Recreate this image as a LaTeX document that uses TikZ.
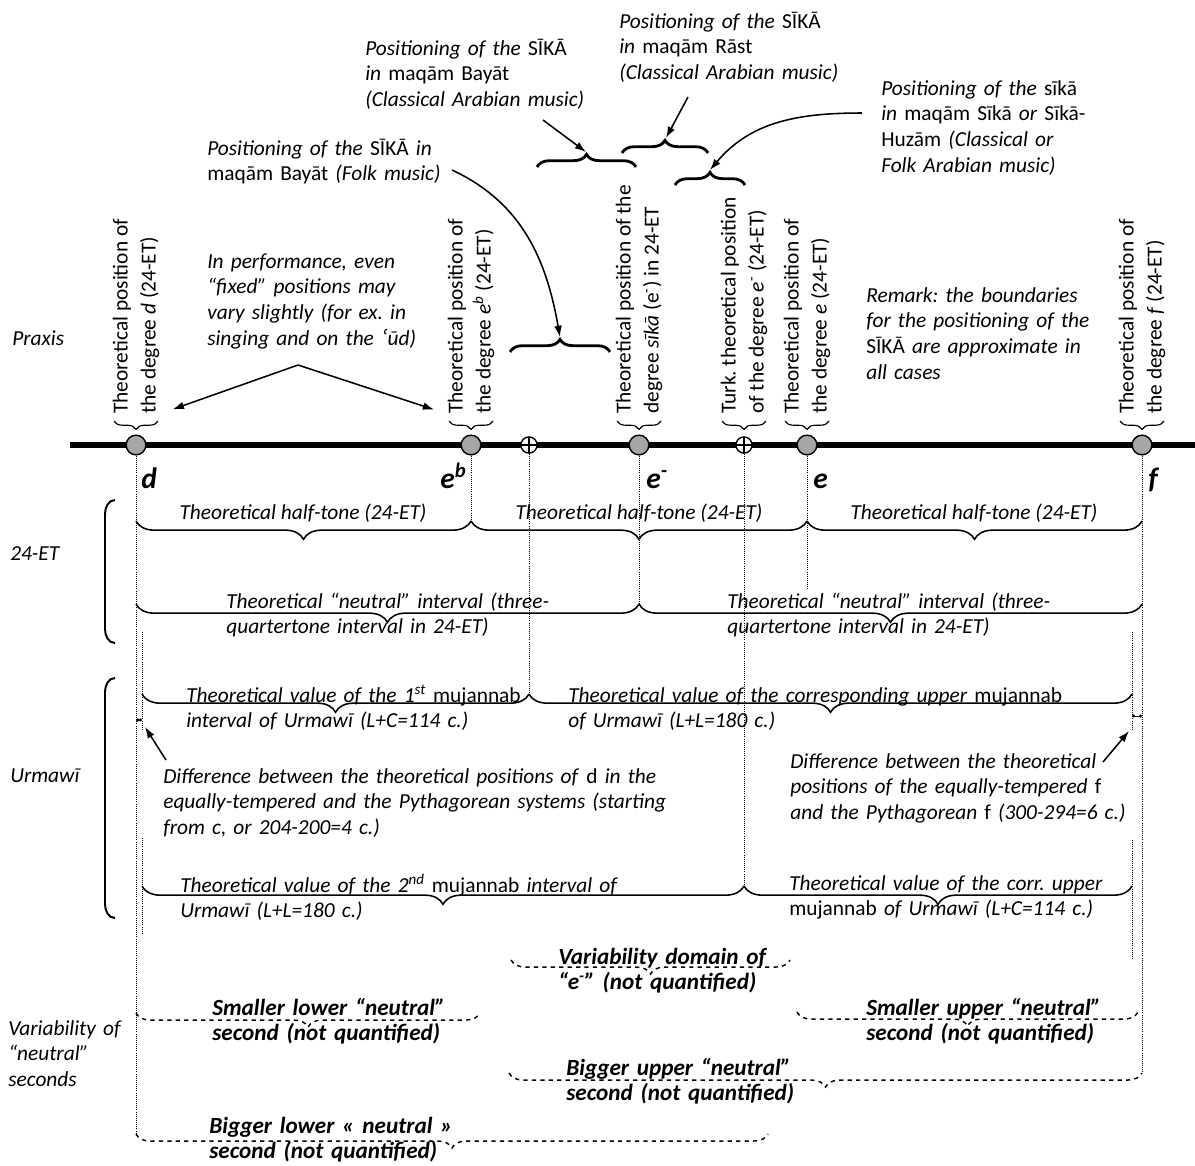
\documentclass[tikz,border=0pt]{standalone}
\usepackage{fontspec}
\setmainfont{Carlito}
\newfontfamily\ringfont{DejaVu Sans}
\usetikzlibrary{decorations.pathreplacing,arrows.meta}
\definecolor{PointGray}{HTML}{A6A6A6}
\newcommand\notesize{\fontsize{15.2pt}{18.4pt}\selectfont}
\newcommand\varsize{\fontsize{16.5pt}{18.4pt}\selectfont}
\frenchspacing

\begin{document}
\begin{tikzpicture}[x=0.025cm, y=-0.025cm,
  every node/.style={font=\notesize, inner sep=0pt},
  note/.style={anchor=base west, align=left, text width=16cm, font=\notesize\itshape},
  varnote/.style={note, font=\varsize\bfseries\itshape},
  centrenote/.style={anchor=base, font=\notesize\itshape},
  deg/.style={anchor=base west, font=\fontsize{21pt}{24pt}\selectfont\bfseries\itshape},
  vlabel/.style={rotate=90, anchor=west, align=left, font=\fontsize{15.2pt}{19.8pt}\selectfont},
  axisline/.style={line width=4.2pt},
  degree/.style={circle, draw, fill=PointGray, line width=1pt, minimum size=14pt},
  turk/.style={circle, draw, fill=white, line width=1pt, minimum size=11.5pt,
    path picture={\draw[line width=0.8pt] (path picture bounding box.north) -- (path picture bounding box.south)
      (path picture bounding box.west) -- (path picture bounding box.east);}},
  guide/.style={densely dotted, line width=0.5pt},
  lbrace/.style={decorate, decoration={brace, mirror, amplitude=6pt}, line width=0.8pt},
  ivbrace/.style={decorate, decoration={brace, mirror, amplitude=13pt}, line width=1.1pt},
  skbrace/.style={decorate, decoration={brace, amplitude=9pt}, line width=2pt},
  varbrace/.style={decorate, decoration={brace, mirror, amplitude=10pt}, dashed, line width=1pt},
  sidebracket/.style={line width=1.4pt},
  arr/.style={-{Latex[length=8pt,width=5.5pt]}, line width=1.1pt},
  diffmark/.style={{Circle[length=2.2pt]}-{Circle[length=2.2pt]}, line width=0.6pt}]
  \useasboundingbox (0,0) rectangle (1195,1165);

  % the scale with its degrees
  \draw[axisline] (70,445) -- (1195,445);
  \node[degree] (d) at (136,445) {};
  \node[degree] (eb) at (471,445) {};
  \node[turk] (tp1) at (529,445) {};
  \node[degree] (em) at (639,445) {};
  \node[turk] (tp2) at (744,445) {};
  \node[degree] (e) at (807,445) {};
  \node[degree] (f) at (1142,445) {};

  \node[deg] (nd) at (141,488) {d};
  \node[deg] (neb) at (440,488) {e\textsuperscript{b}};
  \node[deg] (nem) at (646,488) {e\textsuperscript{-}};
  \node[deg] (ne) at (813,488) {e};
  \node[deg] (nf) at (1148,488) {f};

  % labels standing on the degrees
  \node[vlabel] (ld) at (d |- 0,414) {Theoretical position of\\the degree \textit{d} (24-ET)};
  \node[vlabel] (leb) at (eb |- 0,414) {Theoretical position of\\the degree \textit{e}\textsuperscript{\textit{b}} (24-ET)};
  \node[vlabel] (lem) at (em |- 0,414) {Theoretical position of the\\degree \textit{sīkā} (e\textsuperscript{-}) in 24-ET};
  \node[vlabel] (ltp) at (tp2 |- 0,414) {Turk. theoretical position\\of the degree \textit{e}\textsuperscript{-} (24-ET)};
  \node[vlabel] (le) at (e |- 0,414) {Theoretical position of\\the degree \textit{e} (24-ET)};
  \node[vlabel] (lf) at (f |- 0,414) {Theoretical position of\\the degree \textit{f} (24-ET)};
  \foreach \x in {136,471,639,744,807,1142}
    \draw[lbrace] (\x-22,421) -- (\x+22,421);

  % guide lines
  \draw[guide] (d.south) -- (d |- 0,1134);
  \draw[guide] (eb.south) -- (eb |- 0,521);
  \draw[guide] (tp1.south) -- (tp1 |- 0,694);
  \draw[guide] (em.south) -- (em |- 0,604);
  \draw[guide] (tp2.south) -- (tp2 |- 0,886);
  \draw[guide] (e.south) -- (e |- 0,590);
  \draw[guide] (f.south) -- (f |- 0,1073);
  \coordinate (pd) at (142,632);
  \coordinate (pf) at (1132,632);
  \draw[guide] (pd) -- (pd |- 0,730) (pd |- 0,838) -- (pd |- 0,933);
  \draw[guide] (pf) -- (pf |- 0,730) (pf |- 0,840) -- (pf |- 0,960);

  % positioning of the sika
  \node[note] (folk) at (207,155) {Positioning of the \textup{SĪKĀ} in\\\textup{maqām Bayāt} (Folk music)};
  \node[note] (bayat) at (365,55) {Positioning of the \textup{SĪKĀ}\\in \textup{maqām Bayāt}\\(Classical Arabian music)};
  \node[note] (rast) at (619,28) {Positioning of the \textup{SĪKĀ}\\in \textup{maqām Rāst}\\(Classical Arabian music)};
  \node[note] (sika) at (881,95) {Positioning of the \textup{sīkā}\\in \textup{maqām Sīkā} or \textup{Sīkā-}\\\textup{Huzām} (Classical or\\Folk Arabian music)};
  \draw[skbrace] (510,352) -- (610,352);
  \draw[skbrace] (537,167) -- (636,167);
  \draw[skbrace] (622,153) -- (708,153);
  \draw[skbrace] (675,185) -- (745,185);
  \coordinate (bfolk) at (560,337);
  \coordinate (bbayat) at (586,152);
  \coordinate (brast) at (666,138);
  \coordinate (bsika) at (710,170);
  \coordinate (sfolk) at (452,170);
  \coordinate (sbayat) at (543,120);
  \coordinate (srast) at (688,97);
  \coordinate (ssika) at (862,113);
  \draw[arr] (sfolk) to[out=-25,in=100] (bfolk);
  \draw[arr] (sbayat) -- (bbayat);
  \draw[arr] (srast) -- (brast);
  \draw[arr] (ssika) to[out=180,in=50] (bsika);

  \node[note] (perf) at (207,268) {In performance, even\\“fixed” positions may\\vary slightly (for ex. in\\singing and on the {\ringfont ʿ}ūd)};
  \coordinate (sperf) at (298,365);
  \draw[arr, shorten >=10pt] (sperf) -- (ld.south west);
  \draw[arr, shorten >=10pt] (sperf) -- (leb.north west);
  \node[note] (remark) at (866,302) {Remark: the boundaries\\for the positioning of the\\\textup{SĪKĀ} are approximate in\\all cases};

  % row titles
  \node[note] (praxis) at (12,345) {Praxis};
  \node[note] (et) at (10,560) {24-ET};
  \node[note] (urm) at (10,782) {Urmawī};
  \node[note] (varn) at (8,1035) {Variability of\\“neutral”\\seconds};
  \draw[sidebracket] (115,500) to[out=180,in=90] (105,514) -- (105,629) to[out=-90,in=180] (115,643);
  \draw[sidebracket] (115,678) to[out=180,in=90] (105,692) -- (105,904) to[out=-90,in=180] (115,918);

  % 24-ET intervals
  \draw[ivbrace] (d |- 0,521) -- (eb |- 0,521);
  \draw[ivbrace] (eb |- 0,521) -- (e |- 0,521);
  \draw[ivbrace] (e |- 0,521) -- (f |- 0,521);
  \node[centrenote] (ht1) at (303,519) {Theoretical half-tone (24-ET)};
  \node[centrenote] (ht2) at (639,519) {Theoretical half-tone (24-ET)};
  \node[centrenote] (ht3) at (974,519) {Theoretical half-tone (24-ET)};
  \draw[ivbrace] (d |- 0,604) -- (em |- 0,604);
  \draw[ivbrace] (em |- 0,604) -- (f |- 0,604);
  \node[note] (nt1) at (226,608) {Theoretical “neutral” interval (three-\\quartertone interval in 24-ET)};
  \node[note] (nt2) at (727,608) {Theoretical “neutral” interval (three-\\quartertone interval in 24-ET)};

  % Urmawi intervals
  \draw[ivbrace] (pd |- 0,694) -- (tp1 |- 0,694);
  \draw[ivbrace] (tp1 |- 0,694) -- (pf |- 0,694);
  \node[note] (mj1) at (186,702) {Theoretical value of the 1\textsuperscript{st} \textup{mujannab}\\interval of Urmawī (L+C=114 c.)};
  \node[note] (mj1u) at (568,702) {Theoretical value of the corresponding upper \textup{mujannab}\\of Urmawī (L+L=180 c.)};
  \draw[diffmark] (136,720) -- (142,720);
  \draw[diffmark] (1132,716) -- (1142,716);
  \node[note] (diffd) at (163,783) {Difference between the theoretical positions of \textup{d} in the\\equally-tempered and the Pythagorean systems (starting\\from c, or 204-200=4 c.)};
  \node[note] (difff) at (790,768) {Difference between the theoretical\\positions of the equally-tempered \textup{f}\\and the Pythagorean \textup{f} (300-294=6 c.)};
  \coordinate (sdiffd) at (166,760);
  \coordinate (tdiffd) at (145,727);
  \coordinate (sdifff) at (1103,762);
  \coordinate (tdifff) at (1129,731);
  \draw[arr] (sdiffd) -- (tdiffd);
  \draw[arr] (sdifff) -- (tdifff);
  \draw[ivbrace] (pd |- 0,886) -- (tp2 |- 0,886);
  \draw[ivbrace] (tp2 |- 0,886) -- (pf |- 0,886);
  \node[note] (mj2) at (180,892) {Theoretical value of the 2\textsuperscript{nd} \textup{mujannab} interval of\\Urmawī (L+L=180 c.)};
  \node[note] (mj2u) at (789,890) {Theoretical value of the corr. upper\\\textup{mujannab} of Urmawī (L+C=114 c.)};

  % variability of the seconds
  \draw[varbrace] (511,960) -- (790,960);
  \node[varnote] (vdom) at (558,964) {Variability domain of\\“e\textsuperscript{-}” (not quantified)};
  \draw[varbrace] (d |- 0,1013) -- (480,1013);
  \node[varnote] (slow) at (212,1015) {Smaller lower “neutral”\\second (not quantified)};
  \draw[varbrace] (797,1012) -- (1138,1012);
  \node[varnote] (supp) at (866,1015) {Smaller upper “neutral”\\second (not quantified)};
  \draw[varbrace] (509,1073) -- (f |- 0,1073);
  \node[varnote] (bupp) at (566,1075) {Bigger upper “neutral”\\second (not quantified)};
  \draw[varbrace] (d |- 0,1134) -- (768,1134);
  \node[varnote] (blow) at (209,1133) {Bigger lower « neutral »\\second (not quantified)};
\end{tikzpicture}
\end{document}
